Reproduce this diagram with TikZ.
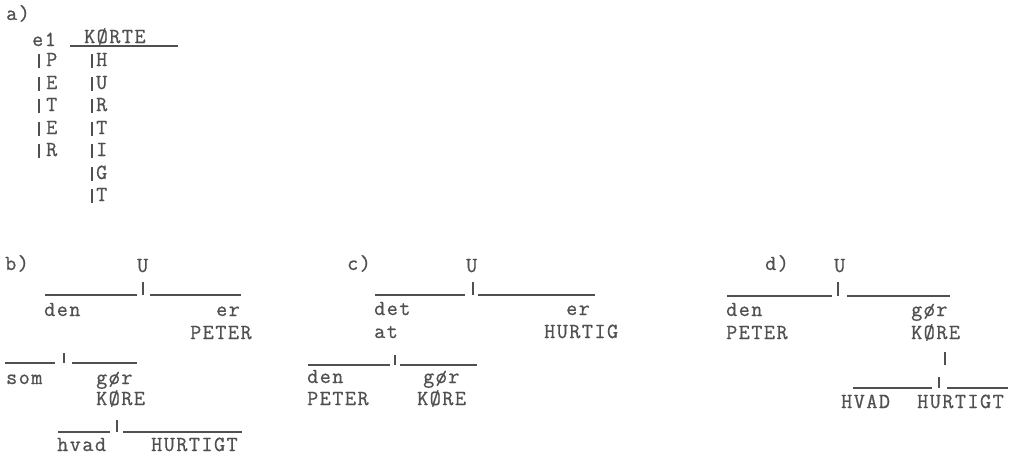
\documentclass[tikz,border=0pt]{standalone}
\usepackage{fontspec}
\newfontfamily\tmono{Latin Modern Mono}[LetterSpace=7,FakeBold=0.8]
\definecolor{ink}{HTML}{505050}
\tikzset{
  txt/.style={font=\tmono\fontsize{21.5}{22}\selectfont, text=ink, inner sep=0pt, anchor=base west},
  ln/.style={draw=ink, line width=1.3pt},
  bar/.style={draw=ink, line width=1.2pt}
}
\begin{document}
\begin{tikzpicture}[x=1pt,y=-1pt]
\useasboundingbox (0,0) rectangle (1015,458);
% ---------- a)
\node[txt] (la) at (6,20) {a)};
\node[txt] (e1) at (32,46) {e1};
\node[txt] (korte) at (84,43) {KØRTE};
\coordinate (aL) at (70,46); \coordinate (aR) at (178,46);
\draw[ln] (aL) -- (aR);
\foreach \l/\y [count=\i] in {P/66,E/89,T/111,E/134,R/156}{
  \node[txt] (p\i) at (46,\y) {\l};
  \coordinate (pb\i) at (39,\y-12); \coordinate (pe\i) at (39,\y+2);
  \draw[bar] (pb\i) -- (pe\i);
}
\foreach \l/\y [count=\i] in {H/66,U/89,R/111,T/134,I/156,G/179,T/201}{
  \node[txt] (h\i) at (96,\y) {\l};
  \coordinate (hb\i) at (92,\y-12); \coordinate (he\i) at (92,\y+2);
  \draw[bar] (hb\i) -- (he\i);
}
% ---------- b)
\node[txt] (lb) at (5,270) {b)};
\node[txt] (bU) at (137,272) {U};
\coordinate (bJt) at (143,282); \coordinate (bJ) at (143,295);
\coordinate (bL1) at (45,295); \coordinate (bL2) at (137,295);
\coordinate (bR1) at (150,295); \coordinate (bR2) at (241,295);
\draw[bar] (bJt) -- (bJ);
\draw[ln] (bL1) -- (bL2); \draw[ln] (bR1) -- (bR2);
\node[txt] (bden) at (44,316) {den};
\node[txt] (ber) at (216,316) {er};
\node[txt] (bpeter) at (190,339) {PETER};
\coordinate (bJ2t) at (64,353); \coordinate (bJ2) at (64,363);
\coordinate (bM1) at (5,363); \coordinate (bM2) at (55,363);
\coordinate (bM3) at (72,363); \coordinate (bM4) at (137,363);
\draw[bar] (bJ2t) -- (bJ2);
\draw[ln] (bM1) -- (bM2); \draw[ln] (bM3) -- (bM4);
\node[txt] (bsom) at (6,384) {som};
\node[txt] (bgor) at (96,384) {gør};
\node[txt] (bkore) at (96,405) {KØRE};
\coordinate (bJ3t) at (117,420); \coordinate (bJ3) at (117,432);
\coordinate (bN1) at (58,432); \coordinate (bN2) at (110,432);
\coordinate (bN3) at (123,432); \coordinate (bN4) at (242,432);
\draw[bar] (bJ3t) -- (bJ3);
\draw[ln] (bN1) -- (bN2); \draw[ln] (bN3) -- (bN4);
\node[txt] (bhvad) at (57,451) {hvad};
\node[txt] (bhurt) at (151,451) {HURTIGT};
% ---------- c)
\node[txt] (lc) at (347,270) {c)};
\node[txt] (cU) at (466,272) {U};
\coordinate (cJt) at (473,282); \coordinate (cJ) at (473,295);
\coordinate (cL1) at (375,295); \coordinate (cL2) at (465,295);
\coordinate (cR1) at (478,295); \coordinate (cR2) at (595,295);
\draw[bar] (cJt) -- (cJ);
\draw[ln] (cL1) -- (cL2); \draw[ln] (cR1) -- (cR2);
\node[txt] (cdet) at (374,315) {det};
\node[txt] (cer) at (566,315) {er};
\node[txt] (cat) at (374,338) {at};
\node[txt] (churt) at (544,338) {HURTIG};
\coordinate (cJ2t) at (395,355); \coordinate (cJ2) at (395,365);
\coordinate (cM1) at (308,365); \coordinate (cM2) at (390,365);
\coordinate (cM3) at (400,365); \coordinate (cM4) at (477,365);
\draw[bar] (cJ2t) -- (cJ2);
\draw[ln] (cM1) -- (cM2); \draw[ln] (cM3) -- (cM4);
\node[txt] (cden) at (307,383) {den};
\node[txt] (cgor) at (423,383) {gør};
\node[txt] (cpeter) at (307,405) {PETER};
\node[txt] (ckore) at (417,405) {KØRE};
% ---------- d)
\node[txt] (ld) at (765,270) {d)};
\node[txt] (dU) at (834,272) {U};
\coordinate (dJt) at (838,282); \coordinate (dJ) at (838,296);
\coordinate (dL1) at (727,296); \coordinate (dL2) at (832,296);
\coordinate (dR1) at (847,296); \coordinate (dR2) at (950,296);
\draw[bar] (dJt) -- (dJ);
\draw[ln] (dL1) -- (dL2); \draw[ln] (dR1) -- (dR2);
\node[txt] (dden) at (726,316) {den};
\node[txt] (dgor) at (911,316) {gør};
\node[txt] (dpeter) at (726,339) {PETER};
\node[txt] (dkore) at (911,339) {KØRE};
\coordinate (dV1) at (945,352); \coordinate (dV2) at (945,365);
\draw[bar] (dV1) -- (dV2);
\coordinate (dJ2t) at (939,377); \coordinate (dJ2) at (939,388);
\coordinate (dM1) at (853,388); \coordinate (dM2) at (932,388);
\coordinate (dM3) at (947,388); \coordinate (dM4) at (1008,388);
\draw[bar] (dJ2t) -- (dJ2);
\draw[ln] (dM1) -- (dM2); \draw[ln] (dM3) -- (dM4);
\node[txt] (dhvad) at (841,408) {HVAD};
\node[txt] (dhurt) at (917,408) {HURTIGT};
\end{tikzpicture}
\end{document}
